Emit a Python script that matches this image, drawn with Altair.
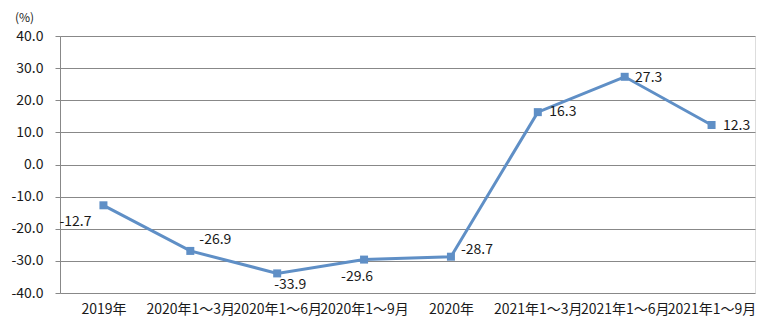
import altair as alt
import pandas as pd

categories = ["2019年", "2020年1～3月", "2020年1～6月", "2020年1～9月", "2020年",
              "2021年1～3月", "2021年1～6月", "2021年1～9月"]
values = [-12.7, -26.9, -33.9, -29.6, -28.7, 16.3, 27.3, 12.3]
y_ticks = [-40, -30, -20, -10, 0, 10, 20, 30, 40]

# label placement (style only)
label_offsets = {
    "2019年": (-28, 17),
    "2020年1～3月": (25, -11),
    "2020年1～6月": (13, 12),
    "2020年1～9月": (-7, 17),
    "2020年": (26, -7),
    "2021年1～3月": (25, 0),
    "2021年1～6月": (24, 1),
    "2021年1～9月": (25, 1),
}

df = pd.DataFrame({"cat": categories, "val": values})
df["label"] = [f"{v:.1f}" for v in values]

FONT = "Noto Sans CJK SC"
COLOR = "#5f8fc6"
TXT = "#1a1a1a"

x = alt.X("cat:N", sort=categories,
          scale=alt.Scale(type="point", padding=0.5),
          axis=alt.Axis(title=None, labelAngle=0, labelFontSize=14, labelFont=FONT,
                        labelColor=TXT, domain=False, ticks=False, labelPadding=9,
                        labelOverlap=False, labelLimit=0, grid=False))
y = alt.Y("val:Q", scale=alt.Scale(domain=[-40, 40], nice=False, zero=False),
          axis=alt.Axis(values=y_ticks, format=".1f",
                        labelExpr="replace(datum.label, '\u2212', '-')",
                        title="(%)", titleAngle=0,
                        titleFont=FONT, titleFontSize=12, titleFontWeight="normal",
                        titleColor=TXT, titleX=-36, titleY=-19, titleAlign="center",
                        titleBaseline="middle",
                        labelFont=FONT, labelFontSize=14, labelColor=TXT,
                        domain=True, domainColor="#888", domainWidth=1,
                        ticks=True, tickSize=5, tickColor="#888",
                        grid=True, gridColor="#888", gridWidth=1, labelPadding=12))

base = alt.Chart(df)
line = base.mark_line(color=COLOR, strokeWidth=3).encode(x=x, y=y)
pts = base.mark_square(color=COLOR, size=64, opacity=1).encode(x=x, y=y)

layers = [line, pts]
for cat, (dx, dy) in label_offsets.items():
    layers.append(
        base.transform_filter(alt.datum.cat == cat)
        .mark_text(font=FONT, fontSize=14, color=TXT, dx=dx, dy=dy, align="center", baseline="middle")
        .encode(x=x, y=y, text="label:N")
    )

chart = alt.layer(*layers).properties(
    width=695, height=257,
    autosize=alt.AutoSizeParams(type="none"),
    padding={"left": 52, "top": 28, "right": 20, "bottom": 30},
).configure_view(stroke=None).configure(background="white")

chart.save("out.html", embed_options={"renderer": "svg", "actions": False})
